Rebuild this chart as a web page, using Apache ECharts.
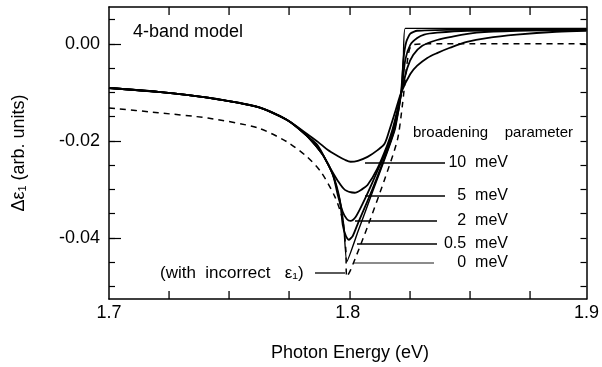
<!DOCTYPE html>
<html>
<head>
<meta charset="utf-8">
<script src="https://cdn.jsdelivr.net/npm/echarts@6.0.0/dist/echarts.min.js"></script>
<style>
  html, body { margin: 0; padding: 0; background: #fff; }
  #chart { width: 602px; height: 367px; }
</style>
</head>
<body>
<div id="chart"></div>
<script>
// photon energy (eV) vs delta eps1 (arb. units)
const sharedLeft = [
  [1.700, -0.0091], [1.7206, -0.0099], [1.7414, -0.0111],
  [1.7622, -0.0130], [1.7746, -0.0157], [1.7830, -0.0190]
];

const gamma0 = sharedLeft.concat([
  [1.7896, -0.0229], [1.7938, -0.0270], [1.7967, -0.0322], [1.7983, -0.0373],
  [1.7996, -0.0449], [1.8042, -0.0388], [1.8104, -0.0305], [1.8166, -0.0223],
  [1.8200, -0.0173], [1.8220, -0.0115], [1.8233, -0.0033], [1.8241, 0.0032],
  [1.9000, 0.0032]
]);

const gamma05 = sharedLeft.concat([
  [1.7896, -0.0229], [1.7938, -0.0270], [1.7967, -0.0322], [1.7979, -0.0373],
  [1.7992, -0.0396], [1.8004, -0.0404], [1.8021, -0.0396], [1.8042, -0.0371],
  [1.8104, -0.0299], [1.8166, -0.0219], [1.8195, -0.0177], [1.8225, -0.0099],
  [1.8233, -0.0033], [1.8245, 0.0004], [1.8262, 0.0021], [1.8291, 0.0027],
  [1.8416, 0.0029], [1.9000, 0.0031]
]);

const gamma2 = sharedLeft.concat([
  [1.7896, -0.0229], [1.7938, -0.0270], [1.7958, -0.0311], [1.7979, -0.0346],
  [1.7996, -0.0361], [1.8012, -0.0365], [1.8033, -0.0357], [1.8062, -0.0330],
  [1.8104, -0.0285], [1.8158, -0.0223], [1.8191, -0.0177], [1.8225, -0.0099],
  [1.8241, -0.0033], [1.8262, -0.0002], [1.8291, 0.0012], [1.8320, 0.0019],
  [1.8374, 0.0023], [1.8499, 0.0027], [1.9000, 0.0029]
]);

const gamma5 = sharedLeft.concat([
  [1.7875, -0.0210], [1.7917, -0.0248], [1.7958, -0.0282], [1.7988, -0.0301],
  [1.8029, -0.0307], [1.8062, -0.0299], [1.8083, -0.0291], [1.8125, -0.0256],
  [1.8166, -0.0208], [1.8187, -0.0177], [1.8208, -0.0136], [1.8225, -0.0099],
  [1.8250, -0.0049], [1.8274, -0.0023], [1.8312, -0.0004], [1.8374, 0.0008],
  [1.8428, 0.0014], [1.8541, 0.0023], [1.8707, 0.0027], [1.9000, 0.0029]
]);

const gamma10 = [
  [1.700, -0.0091], [1.7206, -0.0099], [1.7414, -0.0111], [1.7622, -0.0130],
  [1.7746, -0.0157], [1.7830, -0.0186], [1.7875, -0.0202], [1.7917, -0.0219],
  [1.7958, -0.0231], [1.7988, -0.0239], [1.8012, -0.0243], [1.8042, -0.0241],
  [1.8083, -0.0233], [1.8125, -0.0219], [1.8154, -0.0206], [1.8175, -0.0177],
  [1.8200, -0.0138], [1.8225, -0.0099], [1.8262, -0.0062], [1.8291, -0.0045],
  [1.8333, -0.0029], [1.8374, -0.0019], [1.8428, -0.0008], [1.8499, 0.0004],
  [1.8582, 0.0012], [1.8707, 0.0019], [1.8873, 0.0025], [1.9000, 0.0027]
];

const incorrect = [
  [1.700, -0.0132], [1.7206, -0.0142], [1.7414, -0.0153], [1.7622, -0.0173],
  [1.7746, -0.0202], [1.7830, -0.0233], [1.7888, -0.0264], [1.7946, -0.0315],
  [1.7979, -0.0363], [1.7992, -0.0425], [1.7996, -0.0480], [1.8012, -0.0466],
  [1.8083, -0.0377], [1.8154, -0.0280], [1.8208, -0.0198], [1.8229, -0.0126],
  [1.8245, -0.0054], [1.8258, -0.0012], [1.8274, -0.0002], [1.8333, 0.0000],
  [1.9000, 0.0000]
];

const X_MIN = 1.7, X_MAX = 1.9;
const xLabels = [1.7, 1.8, 1.9];
const xTicks = [1.725, 1.75, 1.775, 1.8, 1.825, 1.85, 1.875];
const yLabels = [-0.04, -0.02, 0.00];
const yMinorTicks = [-0.05, -0.045, -0.04, -0.035, -0.03, -0.025, -0.02,
  -0.015, -0.01, -0.005, 0, 0.005];

// labels for the broadening curves: text, y (px), leader x range (px)
const broadLabels = [
  {text: '10  meV', y: 163, x0: 365, x1: 445},
  {text: '5  meV', y: 196, x0: 365, x1: 445},
  {text: '2  meV', y: 221, x0: 355, x1: 437},
  {text: '0.5  meV', y: 244, x0: 357, x1: 437},
  {text: '0  meV', y: 263, x0: 353, x1: 434, color: '#666'}
];

const FONT = "'Liberation Sans', Arial, Helvetica, sans-serif";
const INK = '#000';
const GRID = {left: 109, top: 7, width: 481, height: 292};

const chart = echarts.init(document.getElementById('chart'), null, {renderer: 'canvas'});

const axisLine = {show: true, onZero: false, lineStyle: {color: INK, width: 1.5}};
const xBase = {type: 'value', min: X_MIN, max: X_MAX, splitLine: {show: false}};
const yBase = {type: 'value', min: -0.0526, max: 0.0076, splitLine: {show: false}};
const tickStyle = {color: INK, width: 1.2};

function curve(name, data, width, smooth) {
  return {
    name, type: 'line', data, showSymbol: false, symbol: 'none',
    smooth: smooth,
    lineStyle: {color: INK, width: width || 1.8},
    animation: false, z: 3
  };
}

const graphic = [];
broadLabels.forEach(l => {
  graphic.push({
    type: 'line', shape: {x1: l.x0, y1: l.y, x2: l.x1, y2: l.y},
    style: {stroke: l.color || INK, lineWidth: 1.6}
  });
  graphic.push({
    type: 'text', x: 508, y: l.y,
    style: {text: l.text, font: '16px ' + FONT, fill: INK, align: 'right', verticalAlign: 'middle'}
  });
});

graphic.push(
  {type: 'text', x: 413, y: 133,
    style: {text: 'broadening    parameter', font: '15px ' + FONT, fill: INK, verticalAlign: 'middle'}},
  {type: 'text', x: 133, y: 32,
    style: {text: '4-band model', font: '18px ' + FONT, fill: INK, verticalAlign: 'middle'}},
  {type: 'text', x: 160, y: 273,
    style: {text: '(with  incorrect   ε\u2081)', font: '17px ' + FONT, fill: INK, verticalAlign: 'middle'}},
  {type: 'line', shape: {x1: 315, y1: 273, x2: 345, y2: 273}, style: {stroke: INK, lineWidth: 1.3}},
  {type: 'text', x: 350, y: 353,
    style: {text: 'Photon Energy (eV)', font: '18px ' + FONT, fill: INK, align: 'center', verticalAlign: 'middle'}},
  {type: 'text', x: 19, y: 153, rotation: Math.PI / 2,
    style: {text: 'Δε\u2081 (arb. units)', font: '18px ' + FONT, fill: INK, align: 'center', verticalAlign: 'middle'}}
);

// inward x ticks on the bottom and top frame edges (same linear mapping as the grid),
// drawn as thin filled bars on their own layer
const bottomY = GRID.top + GRID.height;
const topY = GRID.top;
xTicks.forEach(v => {
  const px = Math.round(GRID.left + (v - X_MIN) / (X_MAX - X_MIN) * GRID.width);
  graphic.push(
    {type: 'rect', zlevel: 1, z: 100, shape: {x: px - 0.6, y: bottomY - 8, width: 1.3, height: 8},
      style: {fill: INK}},
    {type: 'rect', zlevel: 1, z: 100, shape: {x: px - 0.6, y: topY, width: 1.3, height: 8},
      style: {fill: INK}}
  );
});

chart.setOption({
  backgroundColor: '#fff',
  animation: false,
  grid: Object.assign({containLabel: false}, GRID),
  textStyle: {fontFamily: FONT},
  xAxis: [
    Object.assign({}, xBase, {
      position: 'bottom',
      axisLine,
      axisTick: {show: false},
      axisLabel: {
        color: INK, fontSize: 18, margin: 5, fontFamily: FONT,
        customValues: xLabels, formatter: v => v.toFixed(1)
      }
    }),
    Object.assign({}, xBase, {
      position: 'top',
      axisLine,
      axisTick: {show: false},
      axisLabel: {show: false}
    })
  ],
  yAxis: [
    Object.assign({}, yBase, {
      position: 'left',
      axisLine,
      axisTick: {show: true, inside: true, length: 12, customValues: yLabels, lineStyle: tickStyle},
      axisLabel: {
        color: INK, fontSize: 18, margin: 9, fontFamily: FONT,
        customValues: yLabels, formatter: v => v.toFixed(2)
      }
    }),
    Object.assign({}, yBase, {
      position: 'left',
      axisLine: {show: false},
      axisTick: {show: true, inside: true, length: 6, customValues: yMinorTicks, lineStyle: tickStyle},
      axisLabel: {show: false}
    }),
    Object.assign({}, yBase, {
      position: 'right',
      axisLine,
      axisTick: {show: true, inside: true, length: 6, customValues: yMinorTicks, lineStyle: tickStyle},
      axisLabel: {show: false}
    })
  ],
  series: [
    Object.assign(curve('incorrect eps1', incorrect, 1.5, 0.25), {
      lineStyle: {color: INK, width: 1.5, type: [6, 5]}, z: 2
    }),
    curve('10 meV', gamma10, 1.8, 0.3),
    curve('5 meV', gamma5, 1.8, 0.3),
    curve('2 meV', gamma2, 1.8, 0.25),
    curve('0.5 meV', gamma05, 1.8, 0.2),
    curve('0 meV', gamma0, 1.4, 0.15)
  ],
  graphic
});
</script>
</body>
</html>
